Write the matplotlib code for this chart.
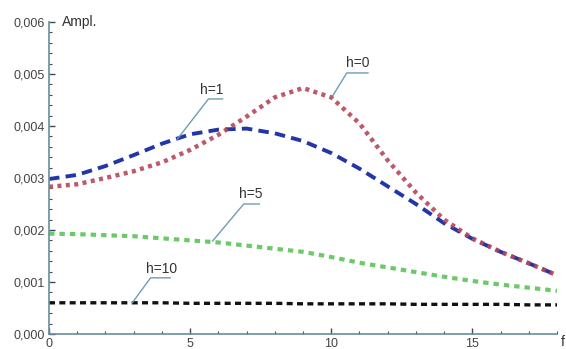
import numpy as np
import matplotlib.pyplot as plt
from matplotlib.ticker import MultipleLocator, FuncFormatter

# frequency grid and amplitudes
f = np.arange(0, 19)

amp_h0 = [0.00283, 0.00288, 0.00300, 0.00313, 0.00330, 0.00354, 0.00383, 0.00418, 0.00455,
          0.00473, 0.00455, 0.00405, 0.00334, 0.00272, 0.00220, 0.00184, 0.00158, 0.00136, 0.00113]
amp_h1 = [0.00298, 0.00306, 0.00323, 0.00344, 0.00366, 0.00384, 0.00393, 0.00395, 0.00386,
          0.00371, 0.00348, 0.00318, 0.00284, 0.00250, 0.00213, 0.00183, 0.00158, 0.00136, 0.00113]
amp_h5 = [0.00193, 0.00192, 0.00190, 0.00188, 0.00184, 0.00180, 0.00176, 0.00170, 0.00164,
          0.00158, 0.00148, 0.00137, 0.00128, 0.00119, 0.00110, 0.00102, 0.00095, 0.00089, 0.00083]
amp_h10 = [0.00060, 0.00060, 0.00060, 0.00060, 0.00060, 0.00059, 0.00059, 0.00059, 0.00059,
           0.00058, 0.00058, 0.00058, 0.00058, 0.00057, 0.00057, 0.00057, 0.00057, 0.00056, 0.00056]

labels = ["h=0", "h=1", "h=5", "h=10"]

plt.rcParams['font.family'] = ['Liberation Sans', 'DejaVu Sans']

fig = plt.figure(figsize=(5.66, 3.49), dpi=100)
ax = fig.add_axes([0.0866, 0.043, 0.8975, 0.894])

ax.plot(f, amp_h10, color='#111111', lw=2.4, linestyle=(0, (1.8, 1.3)))
ax.plot(f, amp_h5, color='#5cc45a', lw=3.0, linestyle=(0, (1.3, 1.2)), alpha=0.9)
ax.plot(f, amp_h1, color='#2336a8', lw=2.8, linestyle=(0, (2.7, 1.6)))
ax.plot(f, amp_h0, color='#b5475a', lw=3.2, linestyle=(0, (0.9, 1.0)), alpha=0.9)

# callouts: (point on curve, elbow, underline end, text position)
callouts = [
    ((10.05, 0.00458), (10.55, 0.00502), (11.3, 0.00502), (10.95, 0.00521)),
    ((4.55, 0.00375), (5.65, 0.00452), (6.15, 0.00452), (5.75, 0.00470)),
    ((5.80, 0.00179), (6.90, 0.00250), (7.45, 0.00250), (7.15, 0.00269)),
    ((2.95, 0.00060), (3.60, 0.00108), (4.30, 0.00108), (4.00, 0.00125)),
]
for lab, (p, e, u, t) in zip(labels, callouts):
    ax.plot([p[0], e[0], u[0]], [p[1], e[1], u[1]], color='#6f9cb4', lw=1.0)
    ax.text(t[0], t[1], lab, ha='center', va='center', fontsize=10, color='#333333')

ax.set_xlim(0, 18)
ax.set_ylim(0, 0.006)
ax.xaxis.set_major_locator(MultipleLocator(5))
ax.xaxis.set_minor_locator(MultipleLocator(1))
ax.yaxis.set_major_locator(MultipleLocator(0.001))
ax.yaxis.set_minor_locator(MultipleLocator(0.0002))
ax.yaxis.set_major_formatter(FuncFormatter(lambda v, pos: f"{v:.3f}".replace('.', ',')))

for s in ['top', 'right']:
    ax.spines[s].set_visible(False)
for s in ['left', 'bottom']:
    ax.spines[s].set_color('#6a8c9c')
    ax.spines[s].set_linewidth(1.2)
ax.tick_params(which='both', direction='in', color='#3d4d55', labelsize=9, labelcolor='#444444')
ax.tick_params(which='major', length=4, width=1)
ax.tick_params(which='minor', length=2, width=0.8)
ax.tick_params(axis='y', pad=3)
ax.tick_params(axis='x', pad=3)

ax.text(0.026, 1.0, "Ampl.", transform=ax.transAxes, ha='left', va='center', fontsize=10, color='#333333')
ax.text(1.012, -0.025, "f", transform=ax.transAxes, ha='center', va='center', fontsize=10, color='#333333')

fig.savefig("out.png", dpi=100)
